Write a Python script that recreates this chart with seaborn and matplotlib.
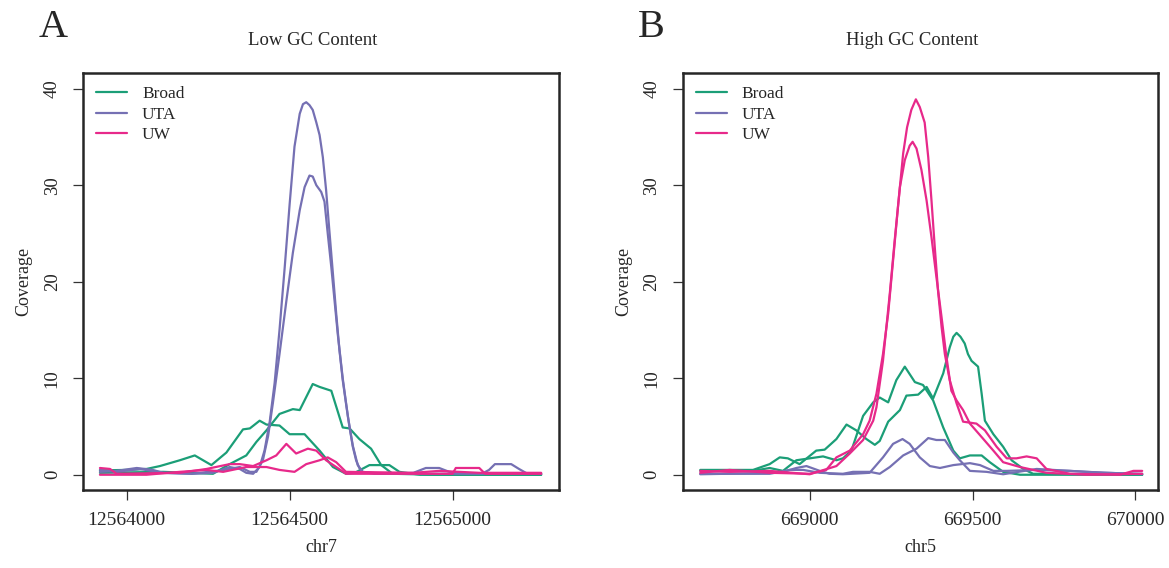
import pandas as pd
import matplotlib.pyplot as plt
import seaborn as sns

# --- Data ---
labs = ["Broad", "UTA", "UW"]
lab_colors = {"Broad": "#1B9E77", "UTA": "#7570B3", "UW": "#E7298A"}

# Panel A: low GC region on chr7
a_broad1_x = [12563918, 12564000, 12564061, 12564102, 12564163, 12564209, 12564260, 12564306, 12564357, 12564378,
              12564408, 12564429, 12564469, 12564500, 12564546, 12564592, 12564633, 12564673, 12564700, 12564745,
              12564806, 12564837, 12564900, 12565272]
a_broad1_y = [0.45, 0.5, 0.6, 0.9, 1.5, 2.0, 1.0, 2.3, 4.7, 4.8,
              5.6, 5.2, 5.1, 4.2, 4.2, 2.5, 0.8, 0.1, 0.2, 1.0,
              1.0, 0.3, 0.0, 0.0]
a_broad2_x = [12563918, 12564112, 12564265, 12564316, 12564367, 12564398, 12564429, 12564469, 12564510, 12564531,
              12564571, 12564592, 12564628, 12564663, 12564684, 12564714, 12564750, 12564781, 12564816, 12564950,
              12565272]
a_broad2_y = [0.2, 0.3, 0.1, 1.1, 2.0, 3.4, 4.6, 6.3, 6.8, 6.7,
              9.4, 9.1, 8.7, 4.9, 4.8, 3.7, 2.7, 1.0, 0.1, 0.0,
              0.0]
a_uta1_x = [12563918, 12563969, 12564031, 12564080, 12564112, 12564200, 12564265, 12564316, 12564347, 12564367,
            12564388, 12564408, 12564423, 12564439, 12564454, 12564469, 12564485, 12564500, 12564515, 12564531,
            12564541, 12564551, 12564561, 12564571, 12564582, 12564592, 12564602, 12564612, 12564622, 12564633,
            12564643, 12564653, 12564663, 12564673, 12564684, 12564694, 12564704, 12564714, 12564724, 12564780,
            12564880, 12564918, 12564959, 12564990, 12565040, 12565272]
a_uta1_y = [0.3, 0.4, 0.7, 0.5, 0.2, 0.1, 0.2, 0.8, 0.6, 0.2,
            0.1, 0.8, 2.5, 5.5, 9.5, 15.0, 21.5, 28.0, 34.0, 37.4,
            38.4, 38.6, 38.3, 37.8, 36.5, 35.2, 32.9, 29.5, 25.3, 20.8,
            16.7, 12.9, 9.8, 7.4, 4.9, 2.9, 1.5, 0.7, 0.3, 0.1,
            0.2, 0.7, 0.7, 0.3, 0.1, 0.1]
a_uta2_x = [12563918, 12563969, 12564040, 12564112, 12564200, 12564300, 12564347, 12564378, 12564398, 12564418,
            12564434, 12564449, 12564469, 12564490, 12564510, 12564531, 12564546, 12564561, 12564571, 12564582,
            12564597, 12564607, 12564617, 12564628, 12564638, 12564648, 12564663, 12564679, 12564694, 12564709,
            12564724, 12564760, 12564950, 12565090, 12565112, 12565130, 12565180, 12565204, 12565230, 12565272]
a_uta2_y = [0.5, 0.3, 0.6, 0.2, 0.1, 0.5, 0.8, 0.3, 0.3, 1.5,
            4.0, 7.5, 12.5, 18.0, 23.0, 27.4, 29.8, 31.0, 30.9, 30.0,
            29.3, 28.3, 25.0, 21.5, 18.0, 14.5, 10.0, 6.0, 3.0, 1.0,
            0.3, 0.1, 0.1, 0.1, 0.5, 1.1, 1.1, 0.6, 0.1, 0.1]
a_uw1_x = [12563918, 12563949, 12563969, 12564163, 12564245, 12564316, 12564347, 12564388, 12564429, 12564459,
           12564490, 12564520, 12564556, 12564582, 12564612, 12564643, 12564673, 12565000, 12565010, 12565082,
           12565100, 12565272]
a_uw1_y = [0.7, 0.6, 0.1, 0.2, 0.6, 1.1, 1.1, 0.9, 1.5, 2.0,
           3.2, 2.2, 2.7, 2.5, 1.5, 0.8, 0.1, 0.1, 0.7, 0.7,
           0.1, 0.1]
a_uw2_x = [12563918, 12564061, 12564163, 12564245, 12564296, 12564367, 12564429, 12564469, 12564515, 12564551,
           12564592, 12564617, 12564643, 12564673, 12564880, 12564959, 12565082, 12565272]
a_uw2_y = [0.0, 0.0, 0.3, 0.5, 0.3, 0.8, 0.8, 0.5, 0.3, 1.1,
           1.5, 1.8, 1.3, 0.3, 0.2, 0.4, 0.2, 0.2]

# Panel B: high GC region on chr5
b_broad1_x = [668664, 668826, 668877, 668908, 668933, 668969, 669020, 669046, 669082, 669113,
              669143, 669174, 669200, 669215, 669241, 669277, 669297, 669333, 669359, 669379,
              669410, 669430, 669441, 669451, 669463, 669476, 669486, 669497, 669517, 669528,
              669538, 669564, 669594, 669620, 669656, 669686, 670021]
b_broad1_y = [0.5, 0.5, 1.1, 1.8, 1.7, 1.1, 2.5, 2.6, 3.7, 5.2,
              4.6, 3.7, 3.1, 3.5, 5.5, 6.7, 8.2, 8.3, 9.1, 7.9,
              10.5, 13.2, 14.3, 14.7, 14.3, 13.6, 12.5, 11.8, 11.2, 8.4,
              5.6, 4.2, 2.9, 1.5, 0.6, 0.1, 0.0]
b_broad2_x = [668664, 668826, 668877, 668918, 668959, 669000, 669041, 669082, 669102, 669128,
              669164, 669195, 669215, 669241, 669266, 669292, 669323, 669348, 669379, 669410,
              669441, 669461, 669492, 669528, 669553, 669594, 669646, 670021]
b_broad2_y = [0.4, 0.4, 0.7, 0.4, 1.5, 1.7, 1.9, 1.5, 1.7, 2.5,
              6.1, 7.5, 8.0, 7.5, 9.8, 11.2, 9.6, 9.3, 7.7, 4.9,
              2.5, 1.7, 2.0, 2.0, 1.3, 0.3, 0.0, 0.0]
b_uta1_x = [668664, 668908, 668959, 668990, 669031, 669061, 669102, 669184, 669225, 669256,
            669285, 669307, 669338, 669369, 669400, 669441, 669492, 669523, 669564, 669605,
            669697, 669799, 669902, 670021]
b_uta1_y = [0.05, 0.2, 0.7, 0.9, 0.4, 0.1, 0.05, 0.2, 1.8, 3.2,
            3.7, 3.2, 1.8, 0.9, 0.7, 1.0, 1.2, 1.0, 0.4, 0.4,
            0.5, 0.4, 0.2, 0.1]
b_uta2_x = [668664, 668877, 668939, 668980, 669031, 669102, 669133, 669184, 669215, 669246,
            669287, 669328, 669364, 669389, 669415, 669441, 669461, 669492, 669543, 669594,
            669697, 669850, 670021]
b_uta2_y = [0.1, 0.1, 0.5, 0.5, 0.2, 0.1, 0.3, 0.3, 0.1, 0.8,
            2.0, 2.7, 3.8, 3.6, 3.6, 2.3, 1.5, 0.4, 0.3, 0.05,
            0.6, 0.3, 0.05]
b_uw1_x = [668664, 668754, 668877, 669000, 669051, 669082, 669123, 669164, 669184, 669205,
           669225, 669241, 669256, 669272, 669287, 669299, 669312, 669326, 669338, 669353,
           669364, 669374, 669384, 669394, 669405, 669415, 669430, 669451, 669471, 669512,
           669538, 669574, 669605, 669635, 669666, 669697, 669727, 669799, 669953, 669994,
           670021]
b_uw1_y = [0.2, 0.5, 0.2, 0.1, 0.5, 1.8, 2.5, 4.2, 5.6, 8.4,
           12.5, 16.7, 22.2, 28.1, 33.3, 36.0, 37.8, 38.9, 38.1, 36.5,
           32.9, 28.4, 23.6, 19.1, 15.3, 12.5, 9.8, 7.4, 5.5, 5.3,
           4.6, 2.9, 1.7, 1.7, 1.9, 1.7, 0.6, 0.1, 0.0, 0.4,
           0.4]
b_uw2_x = [668664, 668754, 668877, 669000, 669082, 669123, 669164, 669195, 669205, 669225,
           669246, 669261, 669277, 669292, 669307, 669316, 669328, 669343, 669359, 669374,
           669389, 669405, 669420, 669435, 669451, 669471, 669492, 669523, 669564, 669594,
           669646, 669727, 669850, 670021]
b_uw2_y = [0.4, 0.3, 0.4, 0.05, 0.9, 2.2, 3.6, 5.6, 7.0, 11.8,
           18.8, 24.3, 29.8, 32.6, 34.1, 34.5, 33.8, 31.6, 28.4, 24.6,
           20.5, 16.3, 12.2, 8.7, 7.7, 6.7, 5.3, 4.1, 2.5, 1.3,
           0.8, 0.2, 0.0, 0.1]

panels = [
    {"label": "A", "title": "Low GC Content", "chrom": "chr7",
     "xlim": (12563866, 12565326), "xticks": [12564000, 12564500, 12565000],
     "series": [("Broad", 1, a_broad1_x, a_broad1_y), ("Broad", 2, a_broad2_x, a_broad2_y),
                ("UTA", 1, a_uta1_x, a_uta1_y), ("UTA", 2, a_uta2_x, a_uta2_y),
                ("UW", 1, a_uw1_x, a_uw1_y), ("UW", 2, a_uw2_x, a_uw2_y)]},
    {"label": "B", "title": "High GC Content", "chrom": "chr5",
     "xlim": (668610, 670071), "xticks": [669000, 669500, 670000],
     "series": [("Broad", 1, b_broad1_x, b_broad1_y), ("Broad", 2, b_broad2_x, b_broad2_y),
                ("UTA", 1, b_uta1_x, b_uta1_y), ("UTA", 2, b_uta2_x, b_uta2_y),
                ("UW", 1, b_uw1_x, b_uw1_y), ("UW", 2, b_uw2_x, b_uw2_y)]},
]

# --- Style ---
sns.set_theme(style="ticks")
plt.rcParams["font.family"] = ["Liberation Serif", "DejaVu Serif"]
plt.rcParams["axes.linewidth"] = 1.8

fig = plt.figure(figsize=(11.69, 5.68), dpi=100)
ax_pos = [[0.071, 0.137, 0.407, 0.734], [0.584, 0.137, 0.407, 0.734]]

for pos, p in zip(ax_pos, panels):
    ax = fig.add_axes(pos)
    rows = []
    for lab, rep, xs, ys in p["series"]:
        for x, y in zip(xs, ys):
            rows.append({"pos": x, "coverage": y, "lab": lab, "rep": f"{lab}{rep}"})
    df = pd.DataFrame(rows)
    sns.lineplot(data=df, x="pos", y="coverage", hue="lab", units="rep", estimator=None,
                 palette=lab_colors, hue_order=labs, sort=False, linewidth=1.6, ax=ax, legend=False)

    ax.set_xlim(*p["xlim"])
    ax.set_ylim(-1.6, 41.6)
    ax.set_xticks(p["xticks"])
    ax.set_xticklabels([str(t) for t in p["xticks"]], fontsize=14)
    ax.set_yticks([0, 10, 20, 30, 40])
    ax.set_yticklabels(["0", "10", "20", "30", "40"], fontsize=13.5, rotation=90, va="center")
    ax.tick_params(axis="both", length=7, width=0.9, color="#333333")
    ax.tick_params(axis="x", pad=9)
    ax.tick_params(axis="y", pad=9)
    ax.set_xlabel(p["chrom"], fontsize=13, labelpad=7)
    ax.set_ylabel("Coverage", fontsize=13, labelpad=8)
    ax.set_title(p["title"], fontsize=13.5, pad=20, x=0.483)

    handles = [plt.Line2D([], [], color=lab_colors[l], linewidth=1.6) for l in labs]
    ax.legend(handles, labs, loc="upper left", frameon=False, fontsize=12.5,
              handlelength=1.8, handletextpad=0.85, labelspacing=0.25,
              borderaxespad=0.35)

    fig.text(pos[0] - 0.038, 0.935, p["label"], fontsize=29, ha="left", va="baseline")

plt.savefig("out.png", dpi=100)
